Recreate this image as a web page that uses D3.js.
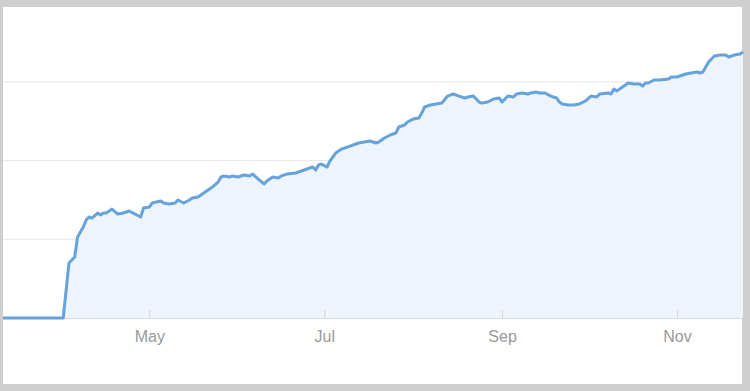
<!DOCTYPE html>
<html>
<head>
<meta charset="utf-8">
<script src="https://d3js.org/d3.v7.min.js"></script>
<style>
  body { margin: 0; background: #fff; }
  .tick text { font-family: "Liberation Sans", Arial, sans-serif; }
</style>
</head>
<body>
<div id="chart"></div>
<script>
// dates of the readings
var dates = [
  "2019-03-11","2019-04-01","2019-04-03","2019-04-04","2019-04-05","2019-04-06","2019-04-08","2019-04-09",
  "2019-04-10","2019-04-11","2019-04-13","2019-04-14","2019-04-15","2019-04-16","2019-04-18","2019-04-20",
  "2019-04-22","2019-04-24","2019-04-26","2019-04-28","2019-04-29","2019-05-01","2019-05-02","2019-05-05",
  "2019-05-06","2019-05-08","2019-05-10","2019-05-11","2019-05-13","2019-05-15","2019-05-16","2019-05-18",
  "2019-05-20","2019-05-23","2019-05-25","2019-05-26","2019-05-27","2019-05-29","2019-05-30","2019-06-01",
  "2019-06-03","2019-06-05","2019-06-06","2019-06-08","2019-06-10","2019-06-11","2019-06-13","2019-06-15",
  "2019-06-16","2019-06-18","2019-06-21","2019-06-23","2019-06-25","2019-06-27","2019-06-28","2019-06-29",
  "2019-06-30","2019-07-02","2019-07-03","2019-07-05","2019-07-07","2019-07-08","2019-07-10","2019-07-12",
  "2019-07-13","2019-07-15","2019-07-17","2019-07-19","2019-07-20","2019-07-22","2019-07-24","2019-07-26",
  "2019-07-27","2019-07-29","2019-07-30","2019-08-01","2019-08-03","2019-08-04","2019-08-05","2019-08-07",
  "2019-08-09","2019-08-11","2019-08-13","2019-08-15","2019-08-17","2019-08-19","2019-08-20","2019-08-22",
  "2019-08-24","2019-08-25","2019-08-27","2019-08-29","2019-08-31","2019-09-01","2019-09-03","2019-09-05",
  "2019-09-06","2019-09-08","2019-09-10","2019-09-11","2019-09-13","2019-09-14","2019-09-16","2019-09-18",
  "2019-09-20","2019-09-21","2019-09-22","2019-09-24","2019-09-26","2019-09-28","2019-09-30","2019-10-02",
  "2019-10-04","2019-10-05","2019-10-08","2019-10-09","2019-10-10","2019-10-11","2019-10-13","2019-10-15",
  "2019-10-17","2019-10-19","2019-10-20","2019-10-21","2019-10-22","2019-10-24","2019-10-26","2019-10-29",
  "2019-10-30","2019-11-01","2019-11-02","2019-11-04","2019-11-06","2019-11-08","2019-11-09","2019-11-10",
  "2019-11-12","2019-11-13","2019-11-14","2019-11-16","2019-11-18","2019-11-19","2019-11-21","2019-11-23",
  "2019-11-24"
];

// values (gridlines at 1, 2, 3)
var values = [
  0, 0, 0.699, 0.737, 0.775, 1.029, 1.157, 1.245,
  1.283, 1.270, 1.334, 1.309, 1.334, 1.334, 1.384, 1.321,
  1.334, 1.360, 1.321, 1.283, 1.397, 1.410, 1.461, 1.487,
  1.461, 1.449, 1.461, 1.499, 1.461, 1.499, 1.524, 1.537,
  1.589, 1.664, 1.728, 1.792, 1.805, 1.792, 1.805, 1.792,
  1.817, 1.805, 1.829, 1.766, 1.703, 1.740, 1.792, 1.779,
  1.805, 1.829, 1.842, 1.868, 1.893, 1.919, 1.880, 1.944,
  1.956, 1.919, 1.995, 2.096, 2.148, 2.159, 2.185, 2.211,
  2.224, 2.236, 2.249, 2.224, 2.236, 2.287, 2.325, 2.351,
  2.427, 2.452, 2.490, 2.528, 2.541, 2.604, 2.681, 2.706,
  2.719, 2.731, 2.820, 2.846, 2.820, 2.796, 2.807, 2.820,
  2.744, 2.731, 2.744, 2.783, 2.796, 2.744, 2.820, 2.807,
  2.846, 2.859, 2.846, 2.859, 2.871, 2.859, 2.859, 2.820,
  2.796, 2.744, 2.719, 2.706, 2.706, 2.719, 2.757, 2.820,
  2.807, 2.846, 2.859, 2.846, 2.910, 2.884, 2.935, 2.986,
  2.973, 2.973, 2.947, 2.986, 2.986, 3.024, 3.024, 3.036,
  3.062, 3.062, 3.075, 3.100, 3.113, 3.126, 3.113, 3.126,
  3.253, 3.291, 3.329, 3.342, 3.342, 3.316, 3.342, 3.355,
  3.379
];

var tickDates = ["2019-05-01", "2019-07-01", "2019-09-01", "2019-11-01"];
var tickLabels = ["May", "Jul", "Sep", "Nov"];
var gridValues = [1, 2, 3];

var W = 750, H = 391;
var parse = d3.timeParse("%Y-%m-%d");

var data = dates.map(function(d, i) { return {date: parse(d), value: values[i]}; });

var svg = d3.select("#chart")
  .append("svg")
    .attr("width", W)
    .attr("height", H);

// frame
svg.append("rect")
  .attr("width", W).attr("height", H)
  .attr("fill", "#cfcfcf");
svg.append("rect")
  .attr("x", 3).attr("y", 7)
  .attr("width", 739).attr("height", 377)
  .attr("fill", "#fff");

var x = d3.scaleTime()
  .domain([parse("2019-03-11"), parse("2019-11-24")])
  .range([3, 743]);

var y = d3.scaleLinear()
  .domain([0, 4])
  .range([318, 3.2]);

var plot = svg.append("g");

// gridlines
plot.selectAll("line.grid")
  .data(gridValues)
  .enter()
  .append("line")
    .attr("class", "grid")
    .attr("x1", 3)
    .attr("x2", 742)
    .attr("y1", function(d) { return y(d); })
    .attr("y2", function(d) { return y(d); })
    .attr("stroke", "#e6e6e6")
    .attr("stroke-width", 1);

// area
plot.append("path")
  .datum(data)
  .attr("fill", "#eef4fb")
  .attr("d", d3.area()
    .x(function(d) { return x(d.date); })
    .y0(y(0))
    .y1(function(d) { return y(d.value); }));

// baseline
plot.append("line")
  .attr("x1", 3).attr("x2", 742)
  .attr("y1", y(0) + 0.5).attr("y2", y(0) + 0.5)
  .attr("stroke", "#d9dfe7")
  .attr("stroke-width", 1);

// x axis, ticks pointing up into the plot
var xAxis = plot.append("g")
  .attr("transform", "translate(0," + y(0) + ")")
  .call(d3.axisBottom(x)
    .tickValues(tickDates.map(parse))
    .tickFormat(function(d, i) { return tickLabels[i]; })
    .tickSizeInner(-8)
    .tickSizeOuter(0)
    .tickPadding(13));
xAxis.select(".domain").remove();
xAxis.selectAll(".tick line").attr("stroke", "#d6d6d6");
xAxis.selectAll(".tick text")
  .attr("fill", "#999")
  .style("font-size", "16px");

// line
plot.append("path")
  .datum(data)
  .attr("fill", "none")
  .attr("stroke", "#66a2db")
  .attr("stroke-width", 3)
  .attr("stroke-linejoin", "round")
  .attr("d", d3.line()
    .x(function(d) { return x(d.date); })
    .y(function(d) { return y(d.value); }));
</script>
</body>
</html>
